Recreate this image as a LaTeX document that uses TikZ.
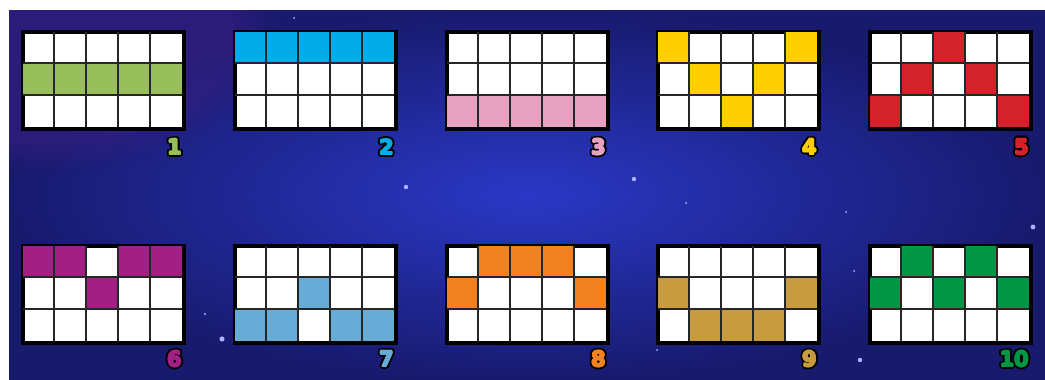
\documentclass[tikz,border=0pt]{standalone}
\usepackage{fontspec}
\setmainfont{DejaVu Sans}
\usetikzlibrary{fadings}
\definecolor{bgIn}{RGB}{42,56,198}
\definecolor{bgOut}{RGB}{24,26,110}
\definecolor{bgPurple}{RGB}{60,30,130}
\definecolor{starcol}{RGB}{170,180,255}
\definecolor{cGreenA}{RGB}{152,190,92}
\definecolor{cCyan}{RGB}{0,172,232}
\definecolor{cPink}{RGB}{230,162,192}
\definecolor{cYellow}{RGB}{255,206,0}
\definecolor{cRed}{RGB}{212,34,42}
\definecolor{cPurple}{RGB}{162,32,132}
\definecolor{cLBlue}{RGB}{102,172,214}
\definecolor{cOrange}{RGB}{242,130,32}
\definecolor{cTan}{RGB}{200,156,62}
\definecolor{cGreenB}{RGB}{0,150,70}
\tikzset{
  gridbox/.style={draw=black, line width=2.6pt, fill=white, inner sep=0pt,
    minimum width=160pt, minimum height=96pt, anchor=north west},
  gridline/.style={draw=black!85, line width=1.6pt},
  lab/.style={font=\bfseries\fontsize{21}{21}\selectfont, inner sep=0pt, anchor=east},
}
\newcommand\paygrid[5]{%
  \node[gridbox] (#1) at (#2,#3) {};
  \foreach \r/\c in {#5} {\fill[#4] ({#2+32*(\c-1)},{#3+32*(\r-1)}) rectangle ++(32,32);}
  \foreach \i in {1,...,4} {\draw[gridline] ({#2+32*\i},#3) -- ++(0,96);}
  \foreach \j in {1,2} {\draw[gridline] (#2,{#3+32*\j}) -- ++(160,0);}
  \draw[black, line width=2.6pt] (#1.north west) rectangle (#1.south east);
}
\newcommand\paylabel[5]{%
  \foreach \a in {0,20,...,340} {\node[lab, text=black, xshift={2.6*cos(\a)}, yshift={2.6*sin(\a)}] at (#2,#3) {#5};}
  \foreach \a in {0,45,...,315} {\node[lab, text=#4, xshift={0.7*cos(\a)}, yshift={0.7*sin(\a)}] at (#2,#3) {#5};}
  \node[lab, text=#4] (#1) at (#2,#3) {#5};
}
\begin{document}
\begin{tikzpicture}[x=1pt,y=-1pt]
\useasboundingbox (0,0) rectangle (1045,380);
\fill[white] (0,0) rectangle (1045,380);
\begin{scope}
\clip (9,10) rectangle (1045,380);
\shade[inner color=bgIn, outer color=bgOut] (9,10) rectangle (1045,380);
\fill[bgPurple, opacity=0.5, path fading=circle with fuzzy edge 20 percent] (40,30) ellipse (240 and 140);
\end{scope}
% stars
\foreach \x/\y/\s in {406/187/2.2, 634/179/2.2, 222/339/2.6, 205/314/1.2, 1033/227/2.4, 860/360/2.2, 854/271/1, 657/350/1, 294/18/1, 686/203/1, 846/212/1} {\fill[starcol] (\x,\y) circle (\s);}
% row 1
\paygrid{g1}{22}{31}{cGreenA}{2/1,2/2,2/3,2/4,2/5}
\paygrid{g2}{234}{31}{cCyan}{1/1,1/2,1/3,1/4,1/5}
\paygrid{g3}{446}{31}{cPink}{3/1,3/2,3/3,3/4,3/5}
\paygrid{g4}{657}{31}{cYellow}{1/1,1/5,2/2,2/4,3/3}
\paygrid{g5}{869}{31}{cRed}{1/3,2/2,2/4,3/1,3/5}
% row 2
\paygrid{g6}{22}{245}{cPurple}{1/1,1/2,1/4,1/5,2/3}
\paygrid{g7}{234}{245}{cLBlue}{2/3,3/1,3/2,3/4,3/5}
\paygrid{g8}{446}{245}{cOrange}{1/2,1/3,1/4,2/1,2/5}
\paygrid{g9}{657}{245}{cTan}{2/1,2/5,3/2,3/3,3/4}
\paygrid{g10}{869}{245}{cGreenB}{1/2,1/4,2/1,2/3,2/5}
% labels
\paylabel{l1}{182}{147}{cGreenA}{1}
\paylabel{l2}{394}{147}{cCyan}{2}
\paylabel{l3}{606}{147}{cPink}{3}
\paylabel{l4}{817}{147}{cYellow}{4}
\paylabel{l5}{1029}{147}{cRed}{5}
\paylabel{l6}{182}{359}{cPurple}{6}
\paylabel{l7}{394}{359}{cLBlue}{7}
\paylabel{l8}{606}{359}{cOrange}{8}
\paylabel{l9}{817}{359}{cTan}{9}
\paylabel{l10}{1029}{359}{cGreenB}{10}
\end{tikzpicture}
\end{document}
